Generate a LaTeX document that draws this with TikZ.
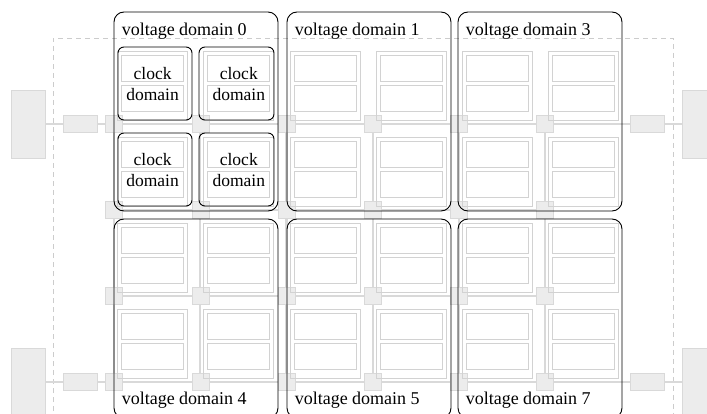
\documentclass[tikz,border=0pt]{standalone}
\usepackage{fontspec}
\setmainfont{Liberation Serif}
\usetikzlibrary{positioning}

\begin{document}
\begin{tikzpicture}[x=1pt, y=-1pt,
  router/.style={rectangle, draw=gray!30, fill=gray!15, inner sep=0pt, minimum size=17pt},
  tile/.style={rectangle, draw=gray!35, line width=0.8pt, inner sep=0pt, minimum width=70pt, minimum height=69pt},
  core/.style={rectangle, draw=gray!35, line width=0.8pt, inner sep=0pt, minimum width=62pt, minimum height=26pt},
  clocktext/.style={align=center, inner sep=0pt, font=\fontsize{17.5}{21}\selectfont},
  io/.style={rectangle, draw=gray!30, fill=gray!15, inner sep=0pt},
  link/.style={draw=gray!30, line width=2.2pt},
  iolink/.style={draw=gray!30, line width=1.2pt},
  vdom/.style={rectangle, draw=black, rounded corners=10pt, line width=0.9pt, inner sep=0pt, minimum width=164pt, minimum height=199pt},
  cdom/.style={rectangle, draw=black, rounded corners=6pt, line width=0.9pt, inner sep=0pt, minimum height=73pt},
  vlabel/.style={anchor=base west, inner sep=0pt, font=\fontsize{18}{18}\selectfont}]

\useasboundingbox (0,0) rectangle (707,414);

% chip outline
\draw[gray!40, line width=0.8pt, dash pattern=on 5pt off 4pt] (53,420) -- (53,38) -- (673,38) -- (673,420);

% routers of the mesh
\foreach \i in {0,...,5}
  \foreach \j in {0,...,3}
    \node[router] (r\i\j) at ({114+86.2*\i},{124+86*\j}) {};

% mesh links
\foreach \j in {0,...,3}
  \foreach \i/\n in {0/1,1/2,2/3,3/4,4/5}
    \draw[link] (r\i\j) -- (r\n\j);
\foreach \i in {0,...,5}
  \foreach \j/\n in {0/1,1/2,2/3}
    \draw[link] (r\i\j) -- (r\i\n);

% tiles
\foreach \i in {0,...,5}
  \foreach \j in {0,...,3} {
    \node[tile] (t\i\j) at ([shift={(38.6,-38.5)}]r\i\j.center) {};
    \node[core] (ca\i\j) at ([shift={(0,-17.5)}]t\i\j.center) {};
    \node[core] (cb\i\j) at ([shift={(0,12.5)}]t\i\j.center) {};
  }

% clock domains
\foreach \cx/\cw/\ci in {155/74/0, 236.5/75/1}
  \foreach \cy/\cj in {83.5/0, 169.5/1} {
    \node[cdom, minimum width=\cw pt] (cd\ci\cj) at (\cx,\cy) {};
    \node[clocktext] (ck\ci\cj) at ([yshift=1pt]t\ci\cj.center) {clock\\domain};
  }

% off-chip ports
\foreach \px/\bx/\s in {28/80/l, 699/647.5/r}
  \foreach \j in {0,3} {
    \node[io, minimum width=34pt, minimum height=68pt] (pad\s\j) at (\px,{124+86*\j}) {};
    \node[io, minimum width=34pt, minimum height=17pt] (buf\s\j) at (\bx,{124+86*\j}) {};
  }
\draw[iolink] (padl0) -- (bufl0) -- (r00);
\draw[iolink] (padl3) -- (bufl3) -- (r03);
\draw[iolink] (padr0) -- (bufr0) -- (r50);
\draw[iolink] (padr3) -- (bufr3) -- (r53);

% voltage domains
\foreach \vx/\tn/\bn in {114/0/4, 287/1/5, 458/3/7} {
  \node[vdom] (vd\tn) at (\vx+82,111.5) {};
  \node[vdom] (vd\bn) at (\vx+82,318.5) {};
  \node[vlabel] (vl\tn) at ([shift={(8,24)}]vd\tn.north west) {voltage domain \tn};
  \node[vlabel] (vl\bn) at ([shift={(8,-14)}]vd\bn.south west) {voltage domain \bn};
}

\end{tikzpicture}
\end{document}
